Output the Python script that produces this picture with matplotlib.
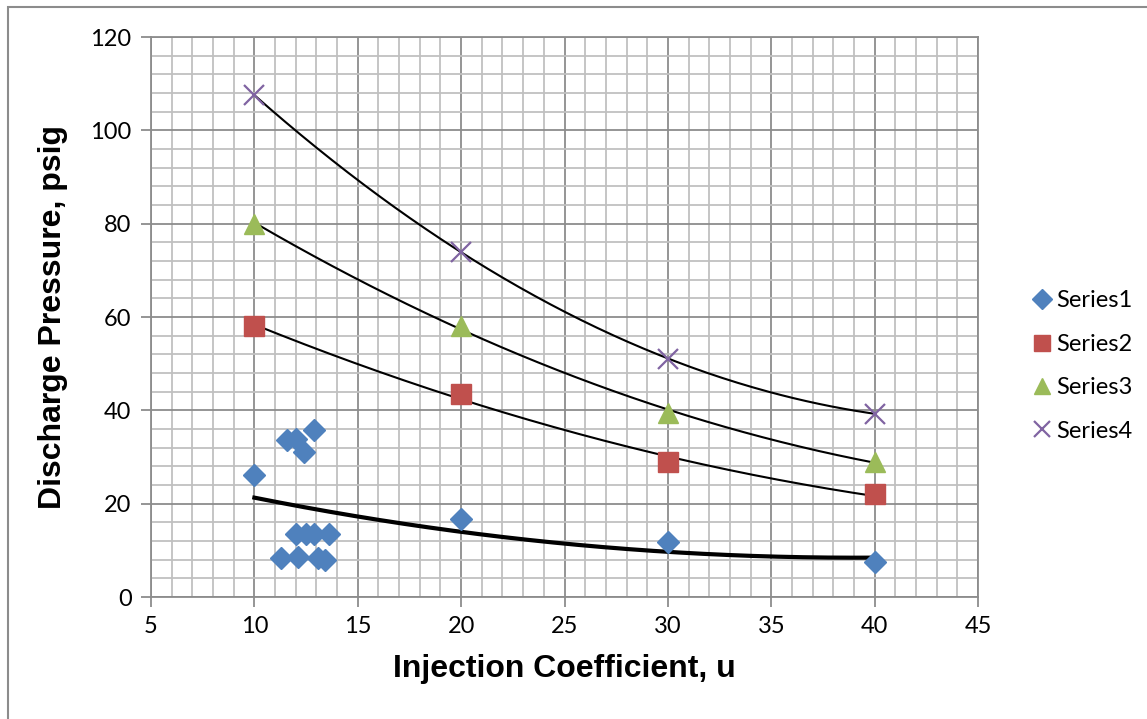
import matplotlib.pyplot as plt
import numpy as np
from matplotlib.patches import Rectangle

# injection coefficient u vs discharge pressure
s1_x = [10, 11.6, 12.0, 12.4, 12.9, 12.0, 12.5, 12.9, 13.6, 11.3, 12.1, 13.1, 13.4, 20, 30, 40]
s1_y = [26.2, 33.6, 33.8, 31.1, 35.8, 13.5, 13.5, 13.5, 13.6, 8.4, 8.5, 8.4, 8.0, 16.7, 11.7, 7.4]
s_x = [10, 20, 30, 40]
s2_y = [58.0, 43.5, 29.0, 22.0]
s3_y = [80.0, 58.0, 39.5, 29.0]
s4_y = [107.5, 74.0, 51.0, 39.3]

blue = '#4F81BD'
red = '#C0504D'
green = '#9BBB59'
purple = '#8064A2'

W, H = 1147, 719
fig = plt.figure(figsize=(W / 100, H / 100), dpi=100)
ax = fig.add_axes([151 / W, 1 - 597 / H, (978 - 151) / W, (597 - 37) / H])

# chart border
fig.patches.append(Rectangle((8 / W, -0.1), 1.2, 1 - 7 / H + 0.1, transform=fig.transFigure,
                             fill=False, edgecolor='#8c8c8c', lw=1.5))

# trend lines (2nd order polynomial, like excel)
def trend(x, y, lw):
    c = np.polyfit(x, y, 2)
    xs = np.linspace(min(x), max(x), 200)
    ax.plot(xs, np.polyval(c, xs), color='black', lw=lw, zorder=3)

trend(s1_x, s1_y, 3.0)
trend(s_x, s2_y, 1.5)
trend(s_x, s3_y, 1.5)
trend(s_x, s4_y, 1.5)

h1, = ax.plot(s1_x, s1_y, 'D', color=blue, ms=11.5, mec=blue, ls='none', label='Series1', zorder=4)
h2, = ax.plot(s_x, s2_y, 's', color=red, ms=14, mec=red, ls='none', label='Series2', zorder=4)
h3, = ax.plot(s_x, s3_y, '^', color=green, ms=14, mec=green, ls='none', label='Series3', zorder=4)
h4, = ax.plot(s_x, s4_y, 'x', color=purple, ms=14, mew=1.6, ls='none', label='Series4', zorder=4)

ax.set_xlim(5, 45)
ax.set_ylim(0, 120)
ax.set_xticks(np.arange(5, 46, 5))
ax.set_yticks(np.arange(0, 121, 20))
ax.set_xticks(np.arange(5, 46, 1), minor=True)
ax.set_yticks(np.arange(0, 121, 4), minor=True)
ax.grid(which='major', color='#8c8c8c', lw=1.3)
ax.grid(which='minor', color='#c0c0c0', lw=1.3)
ax.set_axisbelow(True)
for sp in ax.spines.values():
    sp.set_color('#8c8c8c')
    sp.set_linewidth(1.3)
ax.tick_params(which='major', direction='out', length=7, color='#8c8c8c', width=1.3,
               labelsize=17, pad=7)
ax.tick_params(which='minor', length=0)
for lab in ax.get_xticklabels() + ax.get_yticklabels():
    lab.set_family('Lato')

ax.set_xlabel('Injection Coefficient, u', family='Liberation Sans', fontweight='bold',
              fontsize=23, labelpad=12)
ax.set_ylabel('Discharge Pressure, psig', family='Liberation Sans', fontweight='bold',
              fontsize=23, labelpad=16)

fig.legend(handles=[h1, h2, h3, h4], loc='center left', bbox_to_anchor=(1011 / W, 1 - 366 / H),
           frameon=False, prop={'family': 'Lato', 'size': 17}, handlelength=0.8,
           handletextpad=0.2, labelspacing=0.95, markerscale=0.85)

plt.savefig('out.png', dpi=100)
